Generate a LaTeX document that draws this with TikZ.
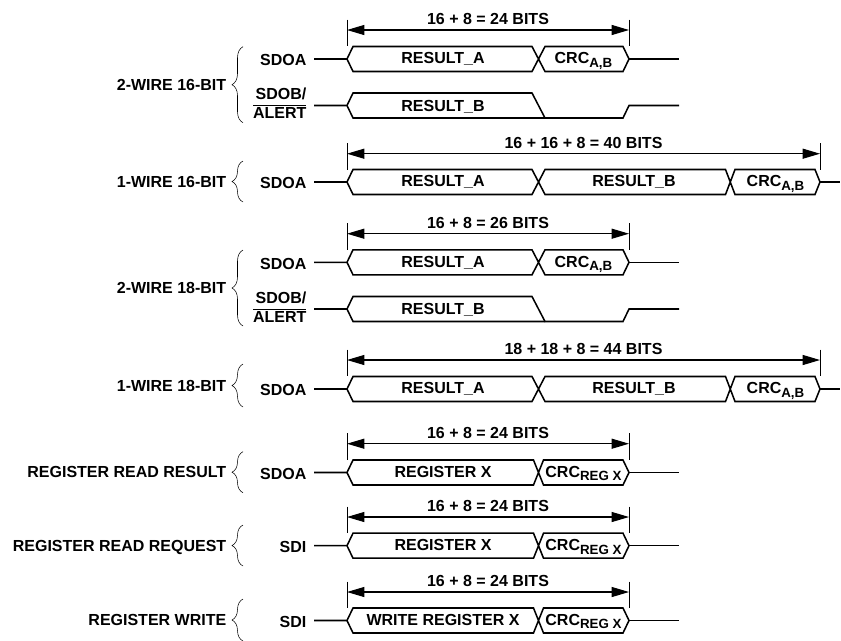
\documentclass[tikz,border=0pt]{standalone}
\usepackage{fontspec}
\setmainfont{Liberation Sans}
\usepackage{tikz}
\usetikzlibrary{arrows.meta, decorations.pathreplacing}

\newcommand{\subtxt}[1]{\raisebox{-2.8pt}{\fontsize{10}{10}\selectfont #1}}
\newcommand{\crcab}{CRC\subtxt{A,B}}
\newcommand{\crcreg}{CRC\subtxt{REG X}}
\newcommand{\sdobsig}{\begin{tabular}{@{}r@{}}SDOB/\\\hline ALERT\end{tabular}}

\tikzset{
  lbl/.style={font=\bfseries\fontsize{12}{14}\selectfont, inner sep=0pt, text height=8.6pt, text depth=0pt},
  wave/.style={line width=1.15pt, line join=miter},
  dimline/.style={line width=0.8pt, {Triangle[length=13pt,width=7.5pt]}-{Triangle[length=13pt,width=7.5pt]}},
  dimtick/.style={line width=0.6pt},
  grpbrace/.style={line width=0.4pt, decorate, decoration={brace, amplitude=8.25pt, aspect=0.5}}
}

\begin{document}
\begin{tikzpicture}[x=0.75pt, y=-0.75pt]
  \useasboundingbox (0,0) rectangle (841,640);

  % dimension arrows
  \foreach \n/\y/\e/\t in {1/30/629/16 + 8 = 24 BITS, 3/153.7/820/16 + 16 + 8 = 40 BITS, 4/233.7/629/16 + 8 = 26 BITS,
      6/360/820/18 + 18 + 8 = 44 BITS, 7/443.7/629/16 + 8 = 24 BITS, 8/517/629/16 + 8 = 24 BITS, 9/592/629/16 + 8 = 24 BITS} {
    \coordinate (dl\n) at (347,\y);
    \coordinate (dr\n) at (\e,\y);
    \draw[dimtick] (347,\y-10.5) -- (347,\y+16);
    \draw[dimtick] (\e,\y-10.5) -- (\e,\y+16);
    \draw[dimline] (dl\n) -- node[lbl, midway, above=3.4pt] (dimtext\n) {\t} (dr\n);
  }

  % group braces
  \foreach \n/\ya/\yb/\t in {1/46.7/122.7/2-WIRE 16-BIT, 3/161/202/1-WIRE 16-BIT, 4/250/326/2-WIRE 18-BIT, 6/364/407/1-WIRE 18-BIT,
      7/451.7/492.7/REGISTER READ RESULT, 8/525/566/REGISTER READ REQUEST, 9/599/641/REGISTER WRITE} {
    \draw[grpbrace] (243,\yb) -- (243,\ya);
    \node[lbl, anchor=east] (grp\n) at (226.5,{(\ya+\yb)/2}) {\t};
  }

  % address and crc frames
  \foreach \n/\c/\xa/\xb/\s/\f/\g in {1/59/532/545/SDOA/RESULT\_A/\crcab, 4/262.3/532/545/SDOA/RESULT\_A/\crcab,
      7/472.5/533.5/543.5/SDOA/REGISTER X/\crcreg, 8/545.7/533.5/543.5/SDI/REGISTER X/\crcreg, 9/620.5/533.5/543.5/SDI/WRITE REGISTER X/\crcreg} {
    \node[lbl, anchor=east, inner xsep=5.5pt] (sig\n) at (314,\c+1) {\s};
    \draw[wave] (314,\c) -- (347,\c) -- (353,\c-12.5) -- (\xa,\c-12.5) -- (\xb,\c+12.5) -- (623,\c+12.5) -- (629,\c)
      -- (623,\c-12.5) -- (\xb,\c-12.5) -- (\xa,\c+12.5) -- (353,\c+12.5) -- (347,\c);
    \draw[wave] (629,\c) -- (679,\c);
    \node[lbl] (data\n) at (443,\c-1) {\f};
    \node[lbl] (crc\n) at (583.5,\c-1) {\g};
  }

  % result b on its own pin
  \foreach \n/\c in {2/105.5, 5/309} {
    \node[lbl, anchor=east, inner xsep=5.5pt, text height=, text depth=] (sig\n) at (314,\c) {\sdobsig};
    \draw[wave] (314,\c) -- (347,\c) -- (353,\c-12.5) -- (532,\c-12.5) -- (545,\c+12.5) -- (623,\c+12.5) -- (629,\c) -- (679,\c);
    \draw[wave] (545,\c+12.5) -- (353,\c+12.5) -- (347,\c);
    \node[lbl] (data\n) at (443,\c) {RESULT\_B};
  }

  % one wire frames
  \foreach \n/\c in {3/182, 6/389} {
    \node[lbl, anchor=east, inner xsep=5.5pt] (sig\n) at (314,\c+1) {SDOA};
    \draw[wave] (314,\c) -- (347,\c) -- (353,\c-12.5) -- (532,\c-12.5) -- (545,\c+12.5) -- (725.5,\c+12.5) -- (735,\c-12.5)
      -- (815,\c-12.5) -- (820,\c) -- (815,\c+12.5) -- (735,\c+12.5) -- (725.5,\c-12.5) -- (545,\c-12.5) -- (532,\c+12.5) -- (353,\c+12.5) -- (347,\c);
    \draw[wave] (820,\c) -- (840,\c);
    \node[lbl] (data\n) at (443,\c-1) {RESULT\_A};
    \node[lbl] (datb\n) at (634,\c-1) {RESULT\_B};
    \node[lbl] (crc\n) at (775.5,\c-1) {\crcab};
  }
\end{tikzpicture}
\end{document}
